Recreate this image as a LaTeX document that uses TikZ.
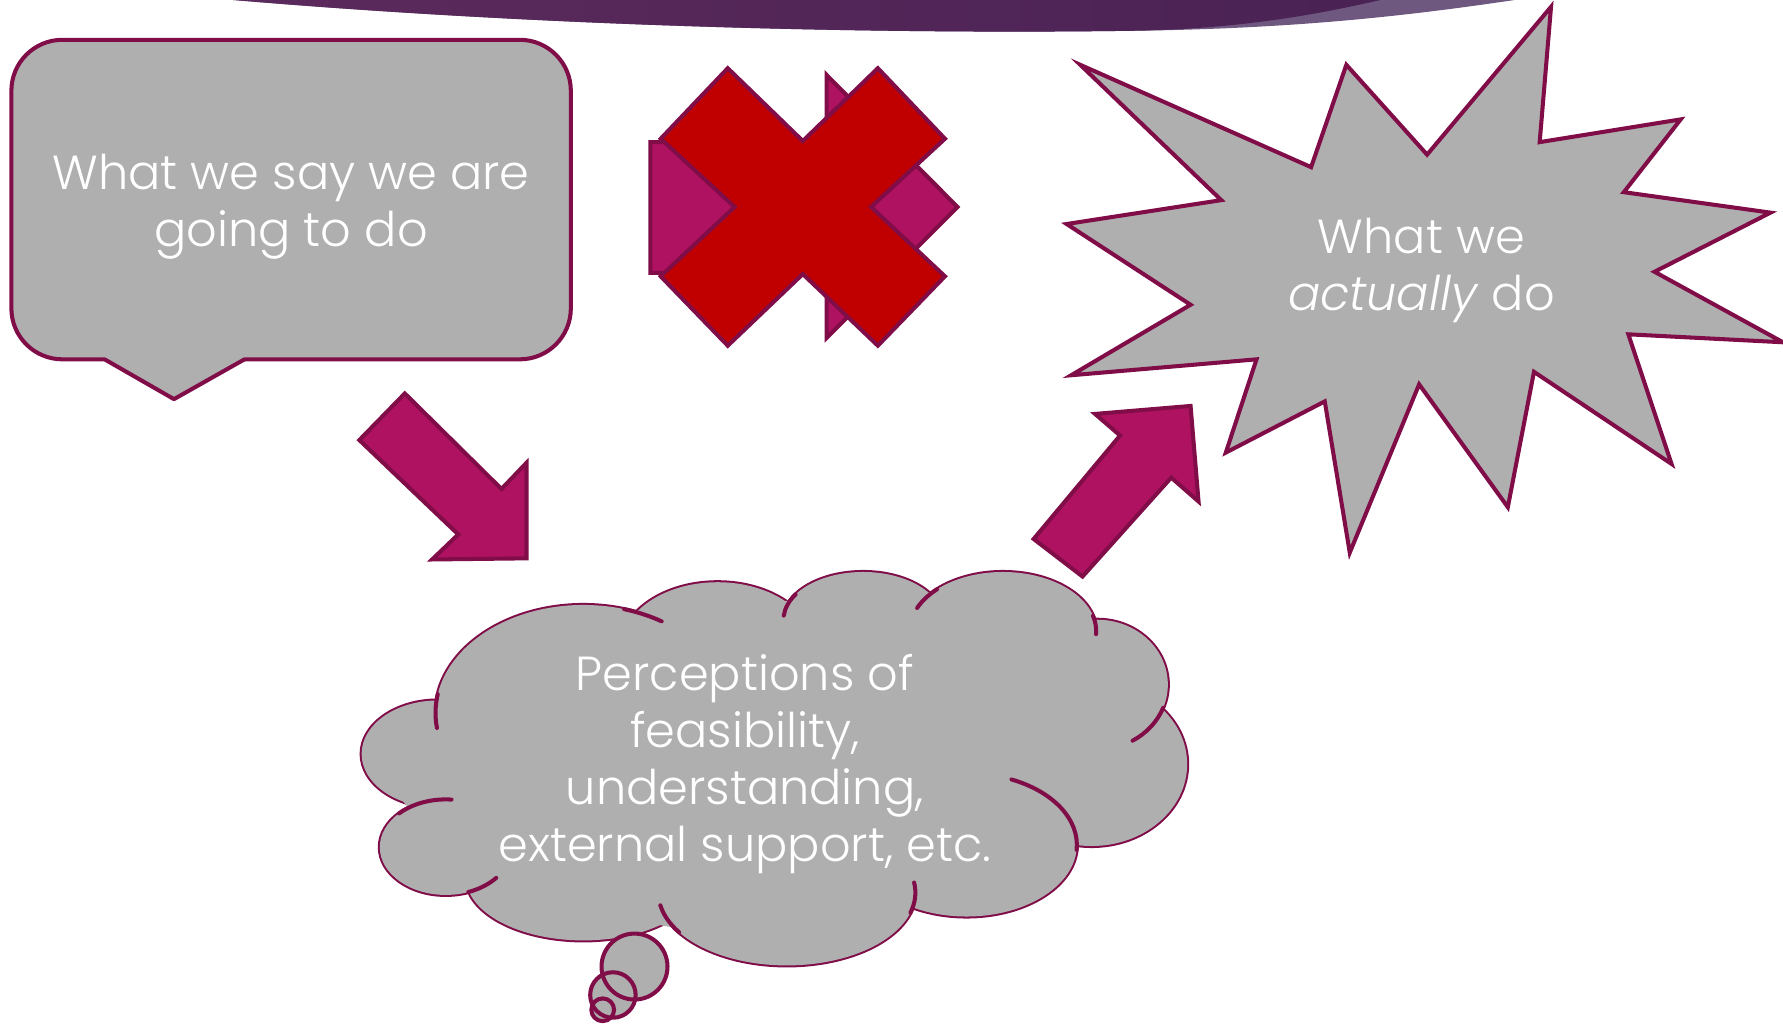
\documentclass[tikz,border=0pt]{standalone}
\usepackage{fontspec}
\setmainfont{Poppins}[UprightFont=* Light, ItalicFont=* Light Italic]
\usetikzlibrary{positioning}

\definecolor{deepwine}{RGB}{128,12,72}
\definecolor{bubblegray}{RGB}{175,175,175}
\definecolor{arrowpink}{RGB}{176,18,98}
\definecolor{crossred}{RGB}{192,0,0}
\definecolor{bandlight}{RGB}{110,88,128}
\definecolor{bandleft}{RGB}{92,42,92}
\definecolor{bandmid}{RGB}{106,50,100}
\definecolor{bandright}{RGB}{74,34,84}

\tikzset{
  outline/.style={draw=deepwine, line width=1.15pt},
  greyshape/.style={outline, fill=bubblegray},
  pinkarrow/.style={outline, fill=arrowpink, line join=miter},
  slidetext/.style={text=white, align=center, inner sep=0pt, font=\fontsize{13.6}{16.2}\selectfont}
}

\newcommand\cloudbumps{385/663/67/47, 392/745/58/42, 513/627/130/95, 631/570/85/58,
  759/545/70/42, 882/555/82/52, 965/602/62/57, 960/672/84/72, 850/743/97/63,
  692/785/113/64, 513/772/103/55}

\begin{document}
\begin{tikzpicture}[line cap=round,line join=round,x=0.011371cm,y=-0.011371cm]
\useasboundingbox (0,0) rectangle (1568,900);

% banner at the top
\fill[bandlight] (205,0) .. controls (500,25) and (800,30) .. (1000,27) .. controls (1150,25) and (1250,12) .. (1332,0) -- cycle;
\shade[left color=bandleft, middle color=bandmid, right color=bandright] (205,0) .. controls (500,25) and (800,30) .. (1000,27) .. controls (1100,25) and (1170,10) .. (1214,0) -- cycle;

% speech box
\draw[greyshape, rounded corners=0.51cm] (10,35) rectangle (502,316);
\fill[bubblegray] (90,312) -- (92,316) -- (153,351) -- (215,316) -- (217,312) -- cycle;
\draw[outline] (92,316) -- (153,351) -- (215,316);
\node[slidetext] (say) at (256,182) {What we say we are\\going to do};

% crossed out arrow
\draw[pinkarrow] (572,125) -- (727,125) -- (727,66) -- (842,182) -- (727,297) -- (727,240) -- (572,240) -- cycle;
\draw[outline, fill=crossred, line join=miter] (640,60) -- (706,124) -- (772,60) -- (831,122) -- (766,182) -- (831,243)
  -- (772,304) -- (706,241) -- (640,304) -- (581,243) -- (646,182) -- (581,122) -- cycle;

% burst
\draw[greyshape, line join=miter] (950,57) -- (1153,147) -- (1184,57) -- (1255,136) -- (1364,6) -- (1354,125)
  -- (1478,105) -- (1428,169) -- (1557,187) -- (1455,239) -- (1568,301) -- (1432,294) -- (1470,408)
  -- (1349,327) -- (1326,446) -- (1248,338) -- (1187,486) -- (1165,353) -- (1078,398) -- (1105,316)
  -- (942,330) -- (1047,268) -- (938,197) -- (1074,176) -- cycle;
\node[slidetext] (actual) at (1250,238) {What we\\\textit{actually} do};

% cloud
\foreach \cx/\cy/\rx/\ry in \cloudbumps
  \draw[outline] (\cx,\cy) ellipse[x radius=\rx, y radius=\ry];
\foreach \cx/\cy/\rx/\ry in \cloudbumps
  \fill[bubblegray] (\cx,\cy) ellipse[x radius=\rx, y radius=\ry];
\fill[bubblegray] (383,617) -- (554,539) -- (697,528) -- (820,521) -- (961,545) -- (1020,626) -- (947,743)
  -- (799,798) -- (594,816) -- (416,784) -- (354,704) -- cycle;
\foreach \cx/\cy/\rx/\ry/\a/\b in {513/627/130/95/190/172, 513/627/130/95/286/302, 392/745/58/42/225/275,
  392/745/58/42/70/40, 759/545/70/42/212/185, 882/555/82/52/225/203, 882/555/82/52/345/363,
  965/602/62/57/21/60, 850/743/97/63/4/-66, 692/785/113/64/16/-8, 692/785/113/64/147/170}
  \draw[outline] ({\cx+\rx*cos(\a)},{\cy+\ry*sin(\a)}) arc[start angle=\a, end angle=\b, x radius=\rx, y radius=\ry];
\node[slidetext] (percep) at (655,672) {Perceptions of\\feasibility,\\understanding,\\external support, etc.};

% thought dots
\fill[bubblegray] (558,850) circle[radius=29];
\fill[bubblegray] (539,875) circle[radius=20];
\fill[bubblegray] (530,888) circle[radius=10];
\draw[outline] (558,850) circle[radius=29];
\draw[outline] (539,875) circle[radius=20];
\draw[outline] (530,888) circle[radius=10];

% arrows
\draw[pinkarrow] (316,387) -- (356,346) -- (441,430) -- (463,407) -- (463,491) -- (380,492) -- (403,470) -- cycle;
\draw[pinkarrow] (909,474) -- (985,383) -- (963,364) -- (1047,357) -- (1054,441) -- (1030,420) -- (952,507) -- cycle;
\end{tikzpicture}
\end{document}
